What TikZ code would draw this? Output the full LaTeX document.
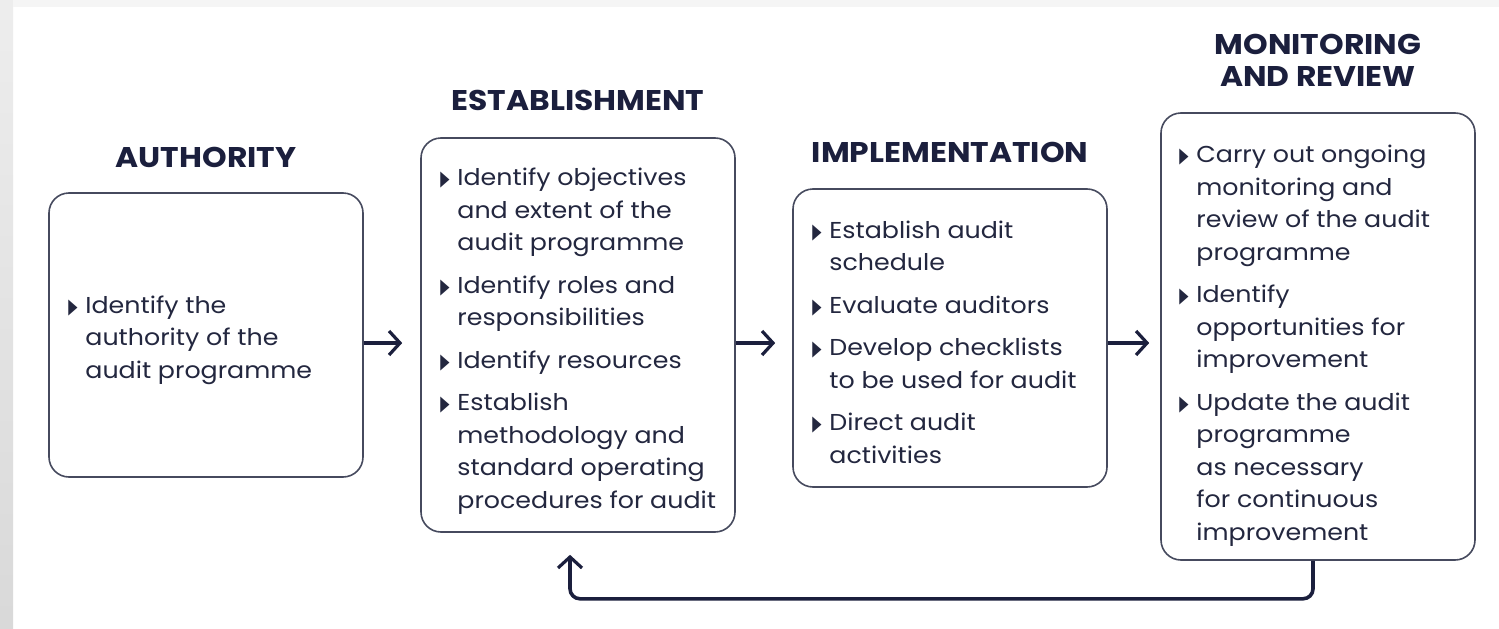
\documentclass[tikz,border=0pt]{standalone}
\usepackage{fontspec}
\setmainfont{Poppins}[FakeStretch=1.1]
\newfontfamily\djv{DejaVu Sans}
\usetikzlibrary{arrows.meta,calc}
\definecolor{navy}{HTML}{1B1F3D}
\definecolor{boxline}{HTML}{464A5E}
\definecolor{txt}{HTML}{23273F}
\newcommand\tri{\makebox[17pt][l]{\raisebox{0pt}{\scalebox{0.8}[1.4]{\djv\fontsize{15}{15}\selectfont ▶}}}}
\newcommand\ind{\hspace*{17pt}}
\tikzset{
  stagebox/.style={draw=boxline, line width=1.6pt, rounded corners=20pt, minimum width=314pt, fill=white},
  body/.style={anchor=west, align=left, text=txt, inner sep=0pt, font=\fontsize{23}{32.5}\selectfont},
  head/.style={anchor=base, text=navy, align=center, inner sep=0pt, font=\bfseries\fontsize{28.5}{32}\selectfont},
  arr/.style={draw=navy, line width=3.6pt, -{Straight Barb[length=11pt, width=24pt, line width=3.2pt]}},
}
\begin{document}
\begin{tikzpicture}[x=1pt,y=-1pt]
\useasboundingbox (0,0) rectangle (1499,629);
\fill[white] (0,0) rectangle (1499,629);
\shade[top color=black!7, bottom color=black!15] (0,0) rectangle (13,629);
\fill[black!4] (13,0) rectangle (1499,7);

\node[stagebox, minimum height=284pt] (auth) at (206,335) {};
\node[stagebox, minimum height=394pt] (est) at (578,335) {};
\node[stagebox, minimum height=298pt] (impl) at (950,338) {};
\node[stagebox, minimum height=447pt] (mon) at (1318,336.5) {};

\node[head] (hauth) at (206,167) {AUTHORITY};
\node[head] (hest) at (578,110) {ESTABLISHMENT};
\node[head] (himpl) at (950,162) {IMPLEMENTATION};
\node[head] (hmon) at (1318,86) {MONITORING\\AND REVIEW};

\node[body] (tauth) at ($(auth.west)+(20,5)$) {\tri Identify the\\ \ind authority of the\\ \ind audit programme};
\node[body] (test) at ($(est.west)+(20,6)$) {\tri Identify objectives\\ \ind and extent of the\\ \ind audit programme\\[10pt]
\tri Identify roles and\\ \ind responsibilities\\[10pt]
\tri Identify resources\\[10pt]
\tri Establish\\ \ind methodology and\\ \ind standard operating\\ \ind procedures for audit};
\node[body] (timpl) at ($(impl.west)+(20,4)$) {\tri Establish audit\\ \ind schedule\\[10pt]
\tri Evaluate auditors\\[10pt]
\tri Develop checklists\\ \ind to be used for audit\\[10pt]
\tri Direct audit\\ \ind activities};
\node[body] (tmon) at ($(mon.west)+(19,9)$) {\tri Carry out ongoing\\ \ind monitoring and\\ \ind review of the audit\\ \ind programme\\[10pt]
\tri Identify\\ \ind opportunities for\\ \ind improvement\\[10pt]
\tri Update the audit\\ \ind programme\\ \ind as necessary\\ \ind for continuous\\ \ind improvement};

\draw[arr] ($(auth.east)+(0,8)$) -- ($(est.west)+(-18,8)$);
\draw[arr] ($(est.east)+(0,8)$) -- ($(impl.west)+(-17,5)$);
\draw[arr] ($(impl.east)+(0,5)$) -- ($(mon.west)+(-11,6.5)$);
\draw[arr, rounded corners=10pt] ($(mon.south)+(-5,0)$) -- ++(0,38) -| ($(est.south)+(-8,22)$);
\end{tikzpicture}
\end{document}
